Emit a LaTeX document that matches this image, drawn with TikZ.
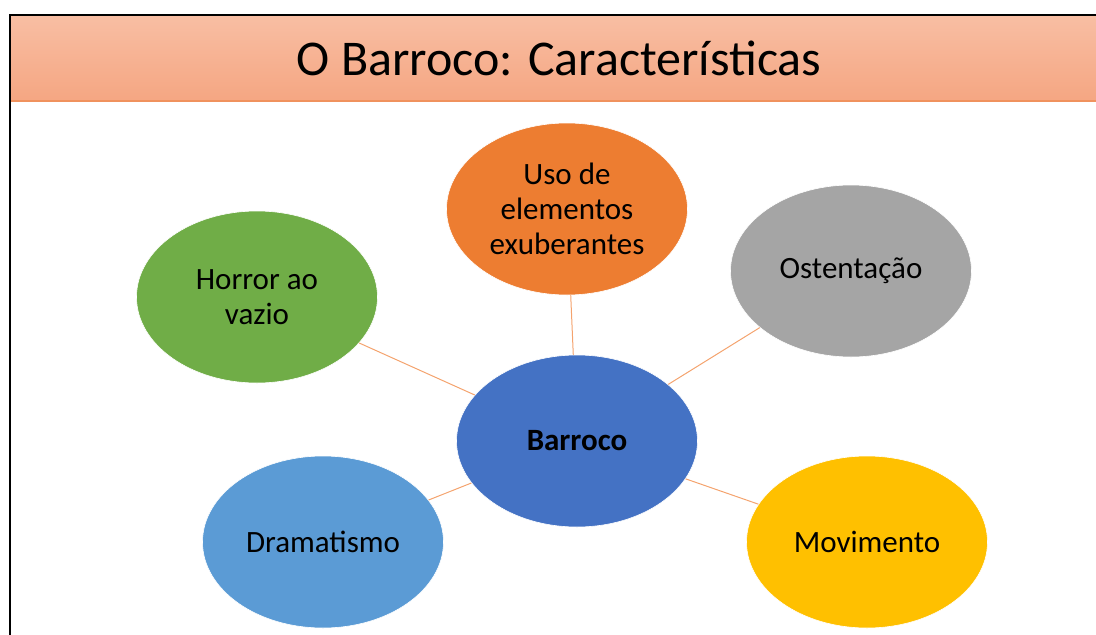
\documentclass[tikz,border=0pt]{standalone}
\usepackage{fontspec}
\setmainfont{Carlito}
\usetikzlibrary{shapes.geometric}

\definecolor{titletop}{HTML}{F8BEA3}
\definecolor{titlebot}{HTML}{F5A682}
\definecolor{titleline}{HTML}{F0925E}
\definecolor{linkcol}{HTML}{F4A36E}
\definecolor{cBlue}{HTML}{4472C4}
\definecolor{cOrange}{HTML}{ED7D31}
\definecolor{cGray}{HTML}{A5A5A5}
\definecolor{cGreen}{HTML}{70AD47}
\definecolor{cLight}{HTML}{5B9BD5}
\definecolor{cGold}{HTML}{FFC000}

\tikzset{
  bubble/.style={ellipse, draw=white, line width=0.6pt, minimum width=241pt,
    minimum height=172pt, inner sep=0pt, align=center,
    font=\fontsize{31}{35}\selectfont},
  link/.style={draw=linkcol, line width=1pt}
}

\begin{document}
\begin{tikzpicture}[x=1pt, y=-1pt]
    \useasboundingbox (0,0) rectangle (1096,635);

    % Title bar
    \shade[top color=titletop, bottom color=titlebot] (10,16) rectangle (1096,101);
    \draw[titleline, line width=1.2pt] (10,101) -- (1096,101);
    \draw[black, line width=2pt] (9.5,635) -- (9.5,15) -- (1096,15);
    \node[font=\fontsize{50}{60}\selectfont] (title) at (559,58) {O Barroco: Características};

    % Center
    \node[bubble, fill=cBlue, font=\fontsize{31}{35}\selectfont\bfseries] (barroco) at (577,441) {Barroco};

    % Outer bubbles and links
    \foreach \x/\y/\c/\nm/\txt in {567/209/cOrange/uso/{Uso de\\elementos\\exuberantes},
                                   851/271/cGray/ostentacao/{Ostentação},
                                   257/297/cGreen/horror/{Horror ao\\vazio},
                                   323/542/cLight/dramatismo/{Dramatismo},
                                   867/542/cGold/movimento/{Movimento}} {
      \node[bubble, fill=\c] (\nm) at (\x,\y) {\txt};
      \draw[link] (barroco) -- (\nm);
    }
  \end{tikzpicture}
\end{document}
